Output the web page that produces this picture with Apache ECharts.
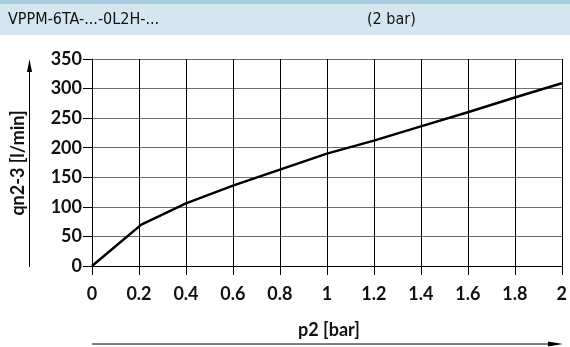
<!DOCTYPE html>
<html>
<head>
<meta charset="utf-8">
<script src="https://cdn.jsdelivr.net/npm/echarts@6/dist/echarts.min.js"></script>
<style>
html,body{margin:0;padding:0;background:#fff;}
#c{width:570px;height:347px;}
</style>
</head>
<body>
<div id="c"></div>
<script>
var headerLeft = 'VPPM-6TA-...-0L2H-...';
var headerRight = '(2 bar)';
var xName = 'p2 [bar]';
var yName = 'qn2-3 [l/min]';
var pressure = [0, 0.21, 0.4, 0.6, 0.8, 1.0, 1.2, 1.4, 1.6, 1.8, 2.0];
var flow = [0, 70, 106, 136, 163, 190, 212, 236, 260, 285, 309];

var chart = echarts.init(document.getElementById('c'), null, {renderer: 'canvas'});
var tickFont = {fontFamily: 'Lato, "Open Sans", sans-serif', fontWeight: 'bold', fontSize: 18, color: '#111'};
var condensed = '"Liberation Sans Narrow", "DejaVu Sans Condensed", "Noto Sans", sans-serif';

chart.setOption({
  animation: false,
  backgroundColor: '#fff',
  grid: {left: 92, right: 5, top: 59, height: 207, containLabel: false},
  xAxis: {
    type: 'value', min: 0, max: 2, interval: 0.2,
    axisLine: {show: true, onZero: false, lineStyle: {color: '#000', width: 1}},
    axisTick: {show: true, length: 9, lineStyle: {color: '#000'}},
    axisLabel: Object.assign({margin: 19, formatter: function(v){ return String(Math.round(v*10)/10); }}, tickFont),
    splitLine: {show: true, lineStyle: {color: '#000', width: 1}}
  },
  yAxis: {
    type: 'value', min: 0, max: 350, interval: 50,
    axisLine: {show: true, lineStyle: {color: '#000', width: 1}},
    axisTick: {show: true, length: 9, lineStyle: {color: '#000'}},
    axisLabel: Object.assign({margin: 10}, tickFont),
    splitLine: {show: true, lineStyle: {color: '#6e6e6e', width: 1}}
  },
  series: [{
    type: 'line',
    data: pressure.map(function(p, i){ return [p, flow[i]]; }),
    symbol: 'none',
    lineStyle: {color: '#000', width: 2.5},
    z: 5
  }],
  graphic: [
    {type: 'rect', shape: {x: 0, y: 0, width: 570, height: 4}, style: {fill: '#a8cde0'}},
    {type: 'rect', shape: {x: 0, y: 4, width: 570, height: 31}, style: {fill: '#d4e6f0'}},
    {type: 'text', x: 8, y: 20, style: {text: headerLeft, font: '16px ' + condensed, fill: '#111', verticalAlign: 'middle'}},
    {type: 'text', x: 367, y: 20, style: {text: headerRight, font: '16px ' + condensed, fill: '#111', verticalAlign: 'middle'}},
    {type: 'text', x: 329, y: 330, style: {text: xName, font: 'bold 18px Lato, "Open Sans", sans-serif', fill: '#111', align: 'center', verticalAlign: 'middle'}},
    {type: 'line', shape: {x1: 92, y1: 344, x2: 556, y2: 344}, style: {stroke: '#000', lineWidth: 1}},
    {type: 'polygon', shape: {points: [[563, 344], [548, 341.5], [548, 346.5]]}, style: {fill: '#000'}},
    {type: 'text', x: 18, y: 163, rotation: Math.PI/2, style: {text: yName, font: 'bold 18px Lato, "Open Sans", sans-serif', fill: '#111', align: 'center', verticalAlign: 'middle'}},
    {type: 'line', shape: {x1: 29.5, y1: 267, x2: 29.5, y2: 68}, style: {stroke: '#000', lineWidth: 1}},
    {type: 'polygon', shape: {points: [[29.5, 59], [27, 72], [32, 72]]}, style: {fill: '#000'}}
  ]
});
</script>
</body>
</html>
